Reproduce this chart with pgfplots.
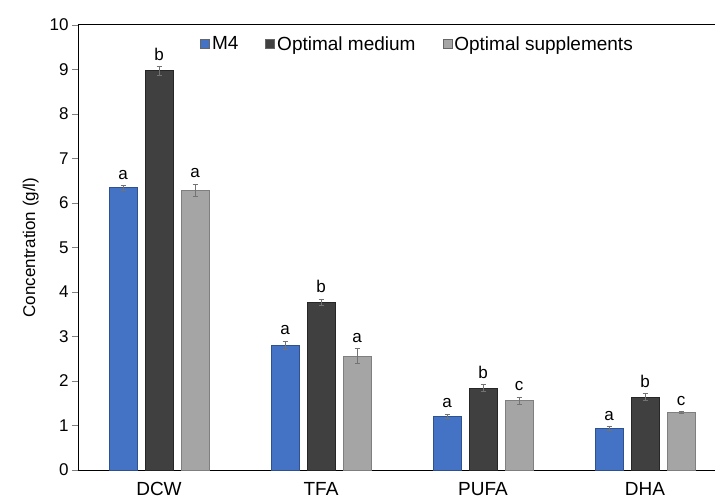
\documentclass[border=0pt]{standalone}
\usepackage{pgfplots}
\pgfplotsset{compat=1.18}
\usepackage{pgfplotstable}
\usepackage{fontspec}
\setmainfont{Liberation Sans}
\definecolor{cM}{HTML}{4472C4}
\definecolor{cMd}{HTML}{2F528F}
\definecolor{cO}{HTML}{404040}
\definecolor{cOd}{HTML}{262626}
\definecolor{cS}{HTML}{A5A5A5}
\definecolor{cSd}{HTML}{7F7F7F}
\pgfplotstableread{
x y err lab
0 6.34 0.05 a
1 2.80 0.10 a
2 1.21 0.05 a
3 0.93 0.04 a
}\tM
\pgfplotstableread{
x y err lab
0 8.97 0.10 b
1 3.77 0.07 b
2 1.84 0.08 b
3 1.64 0.08 b
}\tO
\pgfplotstableread{
x y err lab
0 6.28 0.14 a
1 2.56 0.17 a
2 1.56 0.08 c
3 1.29 0.02 c
}\tS
\begin{document}
\begin{tikzpicture}
\useasboundingbox (-78pt,-32pt) rectangle (637pt,470pt);
\begin{axis}[
  scale only axis, width=637pt, height=445pt,
  ybar, bar width=28pt,
  xmin=-0.5, xmax=3.432, ymin=0, ymax=10,
  axis x line*=bottom, axis y line*=left,
  x axis line style={draw=black, line width=0.8pt, -},
  y axis line style={draw=black, line width=0.8pt, -},
  xtick={0,1,2,3}, xticklabels={DCW,TFA,PUFA,DHA},
  x tick label style={font=\fontsize{19}{21}\selectfont, yshift=-3pt},
  major x tick style={draw=none},
  ytick={0,1,...,10},
  y tick label style={font=\fontsize{17}{19}\selectfont},
  tick align=outside, major tick length=6pt,
  major y tick style={draw=gray, line width=0.8pt},
  /pgf/number format/assume math mode=true,
  ylabel={Concentration (g/l)},
  ylabel style={font=\fontsize{17}{19}\selectfont, yshift=4pt},
  clip=false,
  legend style={draw=none, fill=none, at={(0.533,0.957)}, anchor=center,
    font=\fontsize{19}{21}\selectfont, legend columns=-1,
    /tikz/every even column/.append style={column sep=25pt}},
  legend image code/.code={\draw[#1, draw=gray!80!black] (0pt,-4.5pt) rectangle (9pt,4.5pt);},
  error bars/y dir=both, error bars/y explicit,
  error bars/error bar style={draw=gray!90!black, line width=0.8pt},
  error bars/error mark options={rotate=90, mark size=2.5pt, draw=gray!90!black, line width=0.8pt},
]
\addplot[bar shift=-36pt, fill=cM, draw=cMd, line width=0.8pt]
  table[x=x, y=y, y error=err] {\tM};
\addlegendentry{M4}
\addplot[bar shift=0pt, fill=cO, draw=cOd, line width=0.8pt]
  table[x=x, y=y, y error=err] {\tO};
\addlegendentry{Optimal medium}
\addplot[bar shift=36pt, fill=cS, draw=cSd, line width=0.8pt]
  table[x=x, y=y, y error=err] {\tS};
\addlegendentry{Optimal supplements}
\pgfplotsset{lblstyle/.style={draw=none, fill=none, forget plot,
  error bars/y dir=none,
  nodes near coords, point meta=explicit symbolic,
  nodes near coords style={font=\fontsize{17}{19}\selectfont, anchor=south, inner sep=0pt, yshift=6pt}}}
\addplot[lblstyle, bar shift=-36pt] table[x=x, y expr=\thisrow{y}+\thisrow{err}, meta=lab] {\tM};
\addplot[lblstyle, bar shift=0pt] table[x=x, y expr=\thisrow{y}+\thisrow{err}, meta=lab] {\tO};
\addplot[lblstyle, bar shift=36pt] table[x=x, y expr=\thisrow{y}+\thisrow{err}, meta=lab] {\tS};
\draw[black, line width=1pt] (rel axis cs:0,1) -- (rel axis cs:1,1);
\end{axis}
\end{tikzpicture}
\end{document}
